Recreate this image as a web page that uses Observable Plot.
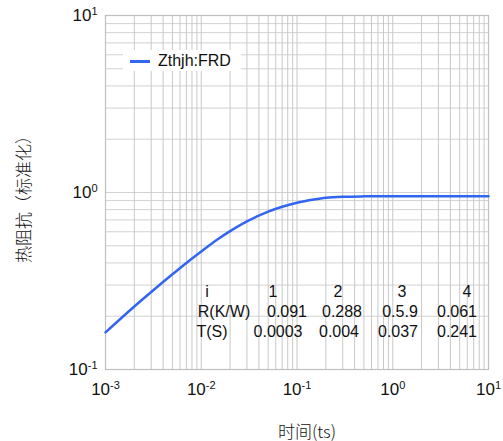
<!DOCTYPE html>
<html>
<head>
<meta charset="utf-8">
<script src="https://cdn.jsdelivr.net/npm/d3@7"></script>
<script src="https://cdn.jsdelivr.net/npm/@observablehq/plot@0.6"></script>
<style>
  body { margin: 0; background: #fff; }
  #wrap { position: relative; width: 503px; height: 441px; font-family: "Liberation Sans", Arial, sans-serif; color: #111; }
  .abs { position: absolute; white-space: nowrap; line-height: 1; }
</style>
</head>
<body>
<div id="wrap"></div>
<script>
// ---- data ----
const timeS = [0.001, 0.002, 0.003, 0.005, 0.007, 0.01, 0.015, 0.02, 0.03, 0.05, 0.07, 0.1, 0.15, 0.2, 0.3, 0.5, 1, 2, 5, 10];
const zthNorm = [0.162, 0.227, 0.274, 0.345, 0.400, 0.464, 0.546, 0.605, 0.687, 0.780, 0.831, 0.875, 0.912, 0.933, 0.946, 0.951, 0.953, 0.953, 0.953, 0.953];
const seriesName = "Zthjh:FRD";
const xDecades = [0.001, 0.01, 0.1, 1, 10];
const yDecades = [0.1, 1, 10];
const tableHeader = ["i", "1", "2", "3", "4"];
const tableR = ["R(K/W)", "0.091", "0.288", "0.5.9", "0.061"];
const tableT = ["T(S)", "0.0003", "0.004", "0.037", "0.241"];
const xTitle = "时间(ts)";
const yTitle = "热阻抗（标准化）";

// minor grid positions (1..9 per decade)
function minorTicks(decades) {
  const out = [];
  for (let i = 0; i < decades.length - 1; i++) for (let m = 1; m <= 9; m++) out.push(m * decades[i]);
  out.push(decades[decades.length - 1]);
  return out;
}
const xGrid = minorTicks(xDecades);
const yGrid = minorTicks(yDecades);

const data = timeS.map((t, i) => ({t, z: zthNorm[i]}));
const expFmt = d => "10^" + Math.round(Math.log10(d));

const chart = Plot.plot({
  width: 503,
  height: 441,
  marginLeft: 105,
  marginRight: 15,
  marginTop: 15,
  marginBottom: 72,
  style: {fontFamily: "'Liberation Sans', Arial, sans-serif", fontSize: "17px", color: "#111", background: "#fff"},
  x: {type: "log", domain: [0.001, 10]},
  y: {type: "log", domain: [0.1, 10]},
  marks: [
    Plot.gridY(yGrid, {stroke: "#d2d2d2", strokeOpacity: 1, strokeWidth: 1}),
    Plot.gridX(xGrid, {stroke: "#c8c8c8", strokeOpacity: 1, strokeWidth: 1}),
    Plot.frame({stroke: "#c0c0c0", strokeWidth: 1.2}),
    Plot.line(data, {x: "t", y: "z", stroke: "#3366f0", strokeWidth: 2.5, curve: "monotone-x"}),
    Plot.axisX(xDecades, {tickSize: 0, tickPadding: 13, tickFormat: expFmt, label: null, fontSize: 17}),
    Plot.axisY(yDecades, {tickSize: 0, tickPadding: 8, tickFormat: expFmt, label: null, fontSize: 17})
  ]
});

// superscript exponents
chart.querySelectorAll('g[aria-label="x-axis tick label"] text, g[aria-label="y-axis tick label"] text').forEach(el => {
  const s = el.textContent;
  const m = s.match(/^10\^(-?\d+)$/);
  if (!m) return;
  el.textContent = "10";
  const ts = document.createElementNS("http://www.w3.org/2000/svg", "tspan");
  ts.setAttribute("dy", "-0.5em");
  ts.setAttribute("font-size", "11");
  ts.textContent = m[1];
  el.appendChild(ts);
});

const wrap = document.getElementById("wrap");
wrap.appendChild(chart);

// legend
const leg = document.createElement("div");
leg.className = "abs";
Object.assign(leg.style, {left: "123px", top: "50px", width: "118px", height: "21px", background: "#fff"});
leg.innerHTML = `<div style="position:absolute;left:7px;top:10px;width:20px;height:2.5px;background:#3366f0"></div>
<div style="position:absolute;left:35px;top:3px;font-size:16px;">${seriesName}</div>`;
wrap.appendChild(leg);

// parameter table
const rowsY = [292, 312, 332];
const colX = [
  [207, 273, 338, 402, 467],
  [224, 287, 342, 400, 457],
  [212, 278, 339, 398, 457]
];
[tableHeader, tableR, tableT].forEach((row, r) => {
  row.forEach((txt, c) => {
    const s = document.createElement("div");
    s.className = "abs";
    s.textContent = txt;
    Object.assign(s.style, {left: colX[r][c] + "px", top: rowsY[r] + "px", fontSize: "16px", transform: "translate(-50%,-50%)"});
    wrap.appendChild(s);
  });
});

// axis titles
const xt = document.createElement("div");
xt.className = "abs";
xt.textContent = xTitle;
Object.assign(xt.style, {left: "307px", top: "430px", fontSize: "17px", fontWeight: "300", transform: "translate(-50%,-50%)", fontFamily: "'Noto Sans CJK SC', sans-serif"});
wrap.appendChild(xt);

const yt = document.createElement("div");
yt.className = "abs";
yt.textContent = yTitle;
Object.assign(yt.style, {left: "22px", top: "195px", fontSize: "17px", fontWeight: "300", transform: "translate(-50%,-50%) rotate(-90deg)", fontFamily: "'Noto Sans CJK SC', sans-serif"});
wrap.appendChild(yt);
</script>
</body>
</html>
